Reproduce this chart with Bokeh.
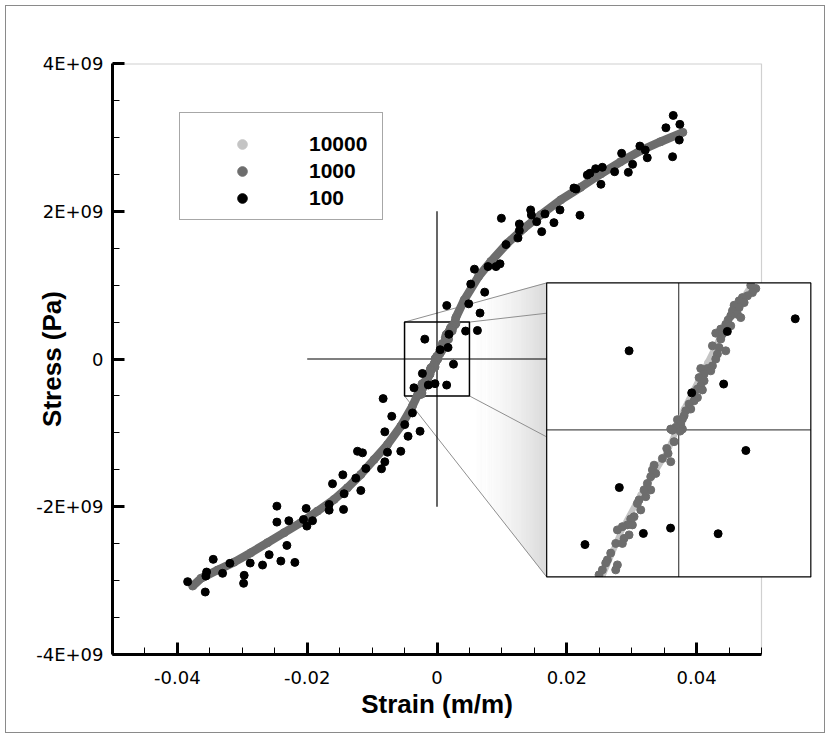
import numpy as np
from bokeh.plotting import figure
from bokeh.models import Range1d, FixedTicker, Legend, LegendItem, Title
from bokeh.embed import file_html
from bokeh.resources import INLINE

# ---------------- data (strain in m/m, stress in units of 1E+09 Pa) ----------------
STRAIN_100 = [
    0.03640, 0.03742, 0.03527, 0.03733, 0.03630, 0.03126, 0.03209, 0.03240, 0.02845, 0.03014,
    0.02948, 0.02737, 0.02547, 0.02444, 0.02356, 0.02316, 0.02526, 0.02110, 0.02141, 0.02203,
    0.01895, 0.01802, 0.01664, 0.01443, 0.01454, 0.01536, 0.01613, 0.00992, 0.01269, 0.01269,
    0.01248, 0.01063, 0.00971, 0.00909, 0.00786, 0.00577, 0.00520, 0.00735, 0.00150, 0.00489,
    0.00663, 0.00623,
    -0.00188, 0.00441, 0.00184, 0.00170, 0.00049, 0.00254, -0.00225, -0.00134, -0.00031, 0.00149,
    -0.00355,
    -0.00830, -0.00697, -0.00378, -0.00497, -0.00261, -0.00804, -0.00446, -0.00763, -0.00558, -0.00804,
    -0.00855,
    -0.01225, -0.01148, -0.01097, -0.01451, -0.01251, -0.01610, -0.01174, -0.01431, -0.02467, -0.02016,
    -0.01662, -0.01662, -0.01440, -0.02467, -0.02283, -0.02057, -0.01918, -0.02005, -0.02313, -0.02586,
    -0.02406, -0.02190, -0.02688, -0.02878, -0.03191, -0.03448, -0.03304, -0.02971, -0.02980, -0.03550,
    -0.03561, -0.03842, -0.03571,
]
STRESS_100 = [
    3.297, 3.176, 3.130, 2.964, 2.738, 2.882, 2.828, 2.724, 2.784, 2.635,
    2.527, 2.535, 2.595, 2.576, 2.514, 2.491, 2.365, 2.315, 2.301, 1.946,
    2.018, 1.846, 1.964, 2.018, 1.950, 1.859, 1.724, 1.905, 1.828, 1.738,
    1.639, 1.549, 1.288, 1.251, 1.251, 1.216, 1.014, 0.905, 0.724, 0.747,
    0.622, 0.386,
    0.269, 0.378, 0.335, 0.156, 0.126, -0.070, -0.196, -0.352, -0.334, -0.353,
    -0.390,
    -0.536, -0.776, -0.730, -0.888, -0.978, -0.986, -1.046, -1.262, -1.249, -1.392,
    -1.486,
    -1.249, -1.270, -1.482, -1.568, -1.613, -1.689, -1.780, -1.824, -1.992, -2.023,
    -1.969, -2.046, -2.036, -2.208, -2.189, -2.172, -2.189, -2.262, -2.523, -2.649,
    -2.735, -2.753, -2.789, -2.762, -2.766, -2.712, -2.901, -2.928, -3.036, -2.884,
    -2.938, -3.014, -3.154,
]

STRAIN_1000 = [
    -0.03765, -0.03637, -0.03380, -0.03125, -0.02868, -0.02610, -0.02355, -0.02098, -0.01841, -0.01585,
    -0.01379, -0.01174, -0.00969, -0.00763, -0.00558, -0.00380,
    0.002727, 0.002917, 0.002790, 0.002601, 0.002411, 0.002285, 0.002475, 0.002096, 0.002285, 0.002033,
    0.002222, 0.001969, 0.002348, 0.001869, 0.001780, 0.001969, 0.001591, 0.001401, 0.001654, 0.001591,
    0.001275, 0.001527, 0.001780, 0.001465, 0.001401, 0.001275, 0.001086, 0.000833, 0.001212, 0.000959,
    0.000770, 0.000959, 0.000833, 0.000707, 0.000896, 0.000581, 0.000707, 0.000581, 0.000391, 0.000454,
    0.000265, 0.000202, 0.000139, -0.000050, 0.000076, -0.000114, -0.000303, 0.000139,
    -0.000240, 0.000051, -0.000177, -0.000455, -0.000404, -0.000619, -0.000303, -0.000934, -0.000998, -0.000871,
    -0.001061, -0.001187, -0.001061, -0.001313, -0.001250, -0.001503, -0.001566, -0.001439, -0.001692, -0.001818,
    -0.001944, -0.002134, -0.002323, -0.001755, -0.001881, -0.002071, -0.002386, -0.002134, -0.002576, -0.002702,
    -0.002765, -0.002323, -0.002386, -0.002891, -0.003017,
    0.00290, 0.00420, 0.00640, 0.00828, 0.01085, 0.01340, 0.01598, 0.01906, 0.02213, 0.02521,
    0.02829, 0.03137, 0.03445, 0.03788,
]
STRESS_1000 = [
    -3.073, -2.969, -2.857, -2.749, -2.622, -2.486, -2.351, -2.216, -2.059, -1.901,
    -1.743, -1.564, -1.361, -1.158, -0.911, -0.640,
    0.492, 0.481, 0.467, 0.456, 0.450, 0.439, 0.433, 0.424, 0.416, 0.405,
    0.393, 0.388, 0.382, 0.374, 0.359, 0.354, 0.343, 0.329, 0.326, 0.309,
    0.286, 0.280, 0.269, 0.258, 0.241, 0.218, 0.209, 0.209, 0.201, 0.190,
    0.178, 0.167, 0.150, 0.139, 0.136, 0.127, 0.110, 0.099, 0.088, 0.071,
    0.065, 0.048, 0.037, 0.035, 0.020, 0.009, 0.003, 0.003,
    -0.001, -0.004, -0.040, -0.063, -0.080, -0.097, -0.108, -0.120, -0.136, -0.148,
    -0.159, -0.182, -0.204, -0.204, -0.227, -0.238, -0.250, -0.272, -0.295, -0.303,
    -0.323, -0.329, -0.340, -0.323, -0.357, -0.369, -0.386, -0.386, -0.419, -0.442,
    -0.453, -0.459, -0.476, -0.476, -0.493,
    0.560, 0.800, 1.116, 1.319, 1.568, 1.770, 1.950, 2.153, 2.324, 2.504,
    2.670, 2.819, 2.941, 3.068,
]

STRAIN_10000 = [
    -0.03765, -0.03637, -0.03380, -0.03125, -0.02868, -0.02610, -0.02355, -0.02098, -0.01841, -0.01585,
    -0.01379, -0.01174, -0.00969, -0.00763, -0.00558, -0.00380, -0.00290, -0.00213, -0.00144, -0.00043,
    -0.00011, 0.00020, 0.00109, 0.00184, 0.00273, 0.00290, 0.00420, 0.00640, 0.00828, 0.01085,
    0.01340, 0.01598, 0.01906, 0.02213, 0.02521, 0.02829, 0.03137, 0.03445, 0.03788,
]
STRESS_10000 = [
    -3.073, -2.969, -2.857, -2.749, -2.622, -2.486, -2.351, -2.216, -2.059, -1.901,
    -1.743, -1.564, -1.361, -1.158, -0.911, -0.640, -0.500, -0.335, -0.221, -0.074,
    -0.006, 0.071, 0.229, 0.365, 0.490, 0.560, 0.800, 1.116, 1.319, 1.568,
    1.770, 1.950, 2.153, 2.324, 2.504, 2.670, 2.819, 2.941, 3.068,
]
STRESS_UNIT = 1e9

SERIES_LABELS = ["10000", "1000", "100"]
X_TITLE = "Strain (m/m)"
Y_TITLE = "Stress (Pa)"
X_TICKS = [-0.04, -0.02, 0.0, 0.02, 0.04]
X_TICK_LABELS = ["-0.04", "-0.02", "0", "0.02", "0.04"]
Y_TICKS = [-4e9, -2e9, 0.0, 2e9, 4e9]
Y_TICK_LABELS = ["-4E+09", "-2E+09", "0", "2E+09", "4E+09"]
X_MINOR_STEP = 0.005
Y_MINOR_STEP = 0.5e9

# ---------------- layout constants ----------------
X_AXIS = (-0.05, 0.05)          # extent of the drawn x axis
Y_RANGE = (-4e9, 4e9)
ZOOM_X = (-0.005, 0.005)        # zoomed window
ZOOM_Y = (-0.5e9, 0.5e9)
INSET_X = (0.0169, 0.0576)      # inset box placement, in main data units
INSET_Y = (-2.95e9, 1.03e9)
CROSS_X = (-0.02, 0.02)
CROSS_Y = (-2e9, 2e9)

OFF = 6                          # page offset of the canvas (room for the outer frame)
W, H = 818, 726
ML, MT = 112 - OFF, 63 - OFF
AXIS_W_PX = 649                  # pixel length of the x axis
FW, FH = 700, 591
MR, MB = W - ML - FW, H - MT - FH
X_VIEW = (X_AXIS[0], X_AXIS[0] + (X_AXIS[1] - X_AXIS[0]) * FW / AXIS_W_PX)
PX_Y = (Y_RANGE[1] - Y_RANGE[0]) / FH   # data units per pixel (y)
X_TITLE_PX = 151.7               # rendered width of the x title (26px bold)

C10K, C1K, C100 = "#c4c4c4", "#6d6d6d", "#000000"
TICK_FONT = "DejaVu Sans"
LABEL_FONT = "Liberation Sans"

sx100 = np.array(STRAIN_100); sy100 = np.array(STRESS_100) * STRESS_UNIT
sx1k = np.array(STRAIN_1000); sy1k = np.array(STRESS_1000) * STRESS_UNIT
sx10k = np.array(STRAIN_10000); sy10k = np.array(STRESS_10000) * STRESS_UNIT
order1k = np.argsort(sy1k)

# ---------------- figure ----------------
p = figure(width=W, height=H, x_range=Range1d(*X_VIEW), y_range=Range1d(*Y_RANGE),
           output_backend="svg", toolbar_location=None,
           min_border_left=ML, min_border_right=MR, min_border_top=MT, min_border_bottom=MB,
           y_axis_label=Y_TITLE)
p.grid.visible = False
p.background_fill_color = "white"
p.border_fill_color = "white"
p.outline_line_color = None
p.styles = {"margin-left": "%dpx" % OFF, "margin-top": "%dpx" % OFF,
            "outline": "1.5px solid #8a8a8a", "outline-offset": "0px"}

xminor = list(np.round(np.arange(X_AXIS[0], X_AXIS[1] + 1e-9, X_MINOR_STEP), 6))
yminor = list(np.arange(Y_RANGE[0], Y_RANGE[1] + 1, Y_MINOR_STEP))
p.xaxis.ticker = FixedTicker(ticks=X_TICKS, minor_ticks=xminor)
p.yaxis.ticker = FixedTicker(ticks=Y_TICKS, minor_ticks=yminor)
p.xaxis.major_label_overrides = {v: s for v, s in zip(X_TICKS, X_TICK_LABELS)}
p.yaxis.major_label_overrides = {v: s for v, s in zip(Y_TICKS, Y_TICK_LABELS)}
p.xaxis.bounds = X_AXIS
for ax in (p.xaxis, p.yaxis):
    ax.axis_line_width = 3
    ax.axis_line_color = "black"
    ax.major_tick_in = 12
    ax.major_tick_out = 0
    ax.major_tick_line_width = 3
    ax.minor_tick_in = 7
    ax.minor_tick_out = 0
    ax.minor_tick_line_width = 1
    ax.major_label_text_font = TICK_FONT
    ax.major_label_text_font_size = "18px"
    ax.major_label_text_color = "black"
    ax.axis_label_text_font = LABEL_FONT
    ax.axis_label_text_font_style = "bold"
    ax.axis_label_text_font_size = "26px"
    ax.axis_label_text_color = "black"
p.xaxis.major_label_standoff = 16
p.yaxis.major_label_standoff = 9
p.yaxis.axis_label_standoff = -34

# x-axis title, centred on the drawn axis (x = 0)
x_title_offset = FW * (0.0 - X_VIEW[0]) / (X_VIEW[1] - X_VIEW[0]) - X_TITLE_PX / 2
p.add_layout(Title(text=X_TITLE, align="left", offset=x_title_offset, vertical_align="top",
                   standoff=5, text_font=LABEL_FONT, text_font_style="bold",
                   text_font_size="26px", text_color="black"), "below")

# inset coordinate system (library scales mapping the zoom window onto the inset box)
def _inset_range(view, win, box):
    k = (win[1] - win[0]) / (box[1] - box[0])
    return Range1d(win[0] + (view[0] - box[0]) * k, win[0] + (view[1] - box[0]) * k)

p.extra_x_ranges = {"inset": _inset_range(X_VIEW, ZOOM_X, INSET_X)}
p.extra_y_ranges = {"inset": _inset_range(Y_RANGE, ZOOM_Y, INSET_Y)}
INS = dict(x_range_name="inset", y_range_name="inset")

# gradient shading between zoom box and inset
def _lerp(x, a, b):
    return a[1] + (b[1] - a[1]) * (x - a[0]) / (b[0] - a[0])

tl0, tl1 = (ZOOM_X[0], ZOOM_Y[1]), (INSET_X[0], INSET_Y[1])
bl0, bl1 = (ZOOM_X[0], ZOOM_Y[0]), (INSET_X[0], INSET_Y[0])
NSTRIP = 36
gxs, gys, gcol = [], [], []
for i in range(NSTRIP):
    xa = ZOOM_X[1] + (INSET_X[0] - ZOOM_X[1]) * i / NSTRIP
    xb = ZOOM_X[1] + (INSET_X[0] - ZOOM_X[1]) * (i + 1) / NSTRIP
    t = (i + 0.5) / NSTRIP
    g = int(round(255 - 38 * t ** 1.7))
    gcol.append("#%02x%02x%02x" % (g, g, g))
    gxs.append([xa, xb, xb, xa])
    gys.append([_lerp(xa, tl0, tl1), _lerp(xb, tl0, tl1), _lerp(xb, bl0, bl1), _lerp(xa, bl0, bl1)])
p.patches(gxs, gys, fill_color=gcol, line_color=gcol, line_width=0.8)

# connector lines (zoom-box corners -> inset corners)
p.segment(x0=[ZOOM_X[0], ZOOM_X[0], ZOOM_X[1], ZOOM_X[1]],
          y0=[ZOOM_Y[1], ZOOM_Y[0], ZOOM_Y[1], ZOOM_Y[0]],
          x1=[INSET_X[0], INSET_X[0], INSET_X[1], INSET_X[1]],
          y1=[INSET_Y[1], INSET_Y[0], INSET_Y[1], INSET_Y[0]],
          line_color="#8f8f8f", line_width=1)

# crosshair and zoom box
p.segment(x0=[0, CROSS_X[0]], y0=[CROSS_Y[0], 0], x1=[0, CROSS_X[1]], y1=[CROSS_Y[1], 0],
          line_color="black", line_width=1.2)
p.quad(left=[ZOOM_X[0]], right=[ZOOM_X[1]], bottom=[ZOOM_Y[0]], top=[ZOOM_Y[1]],
       fill_color=None, line_color="black", line_width=1.5)

# top border of plot box (light gray)
p.segment(x0=[X_AXIS[0]], y0=[Y_RANGE[1]], x1=[X_AXIS[1]], y1=[Y_RANGE[1]],
          line_color="#d0d0d0", line_width=2)

# main data
p.line(sx10k, sy10k, line_color=C10K, line_width=6)
r10k = p.scatter(sx10k, sy10k, size=6, fill_color=C10K, line_color=C10K)
p.line(sx1k[order1k], sy1k[order1k], line_color=C1K, line_width=8.5)
r1k = p.scatter(sx1k, sy1k, size=8, fill_color=C1K, line_color=C1K)
r100 = p.scatter(sx100, sy100, size=8, fill_color=C100, line_color=C100)

# ---------------- inset ----------------
p.quad(left=[INSET_X[0]], right=[INSET_X[1]], bottom=[INSET_Y[0]], top=[INSET_Y[1]],
       fill_color="white", line_color=None)
p.segment(x0=[0, ZOOM_X[0]], y0=[ZOOM_Y[0], 0], x1=[0, ZOOM_X[1]], y1=[ZOOM_Y[1], 0],
          line_color="#222222", line_width=1, **INS)

MARGIN_Y = 0.15e9
def _sel(x, y):
    return (x >= ZOOM_X[0]) & (x <= ZOOM_X[1]) & (y >= ZOOM_Y[0] - MARGIN_Y) & (y <= ZOOM_Y[1] + MARGIN_Y)

m10k, m1k, m100 = _sel(sx10k, sy10k), _sel(sx1k, sy1k), _sel(sx100, sy100)
p.line(sx10k[m10k], sy10k[m10k], line_color=C10K, line_width=6, **INS)
p.scatter(sx10k[m10k], sy10k[m10k], size=6, fill_color=C10K, line_color=C10K, **INS)
p.scatter(sx1k[m1k], sy1k[m1k], size=8, fill_color=C1K, line_color=C1K, **INS)
p.scatter(sx100[m100], sy100[m100], size=8, fill_color=C100, line_color=C100, **INS)

# white masks just outside the inset top/bottom edges (clip overflowing marks)
MASK = 50 * PX_Y
p.quad(left=[INSET_X[0], INSET_X[0]], right=[INSET_X[1], INSET_X[1]],
       bottom=[INSET_Y[1], INSET_Y[0] - MASK], top=[INSET_Y[1] + MASK, INSET_Y[0]],
       fill_color="white", line_color=None)

# right border of plot box (light gray), outside the inset
p.segment(x0=[X_AXIS[1], X_AXIS[1]], y0=[INSET_Y[1], Y_RANGE[0]],
          x1=[X_AXIS[1], X_AXIS[1]], y1=[Y_RANGE[1], INSET_Y[0]],
          line_color="#d0d0d0", line_width=1.2)

# inset frame
p.quad(left=[INSET_X[0]], right=[INSET_X[1]], bottom=[INSET_Y[0]], top=[INSET_Y[1]],
       fill_color=None, line_color="black", line_width=1.2)

# legend
legend = Legend(items=[LegendItem(label=SERIES_LABELS[0], renderers=[r10k]),
                       LegendItem(label=SERIES_LABELS[1], renderers=[r1k]),
                       LegendItem(label=SERIES_LABELS[2], renderers=[r100])],
                location=(67, 434), orientation="vertical",
                padding=9, spacing=3, margin=0,
                glyph_width=106, glyph_height=24, label_width=64, label_height=24,
                label_standoff=14,
                label_text_font=LABEL_FONT, label_text_font_style="bold",
                label_text_font_size="21px", label_text_color="black",
                title=" ", title_text_font_size="6px", title_standoff=4,
                border_line_color="#505050", border_line_width=1,
                background_fill_color="white", background_fill_alpha=1.0)
p.add_layout(legend)

open("out.html", "w").write(file_html(p, INLINE))
